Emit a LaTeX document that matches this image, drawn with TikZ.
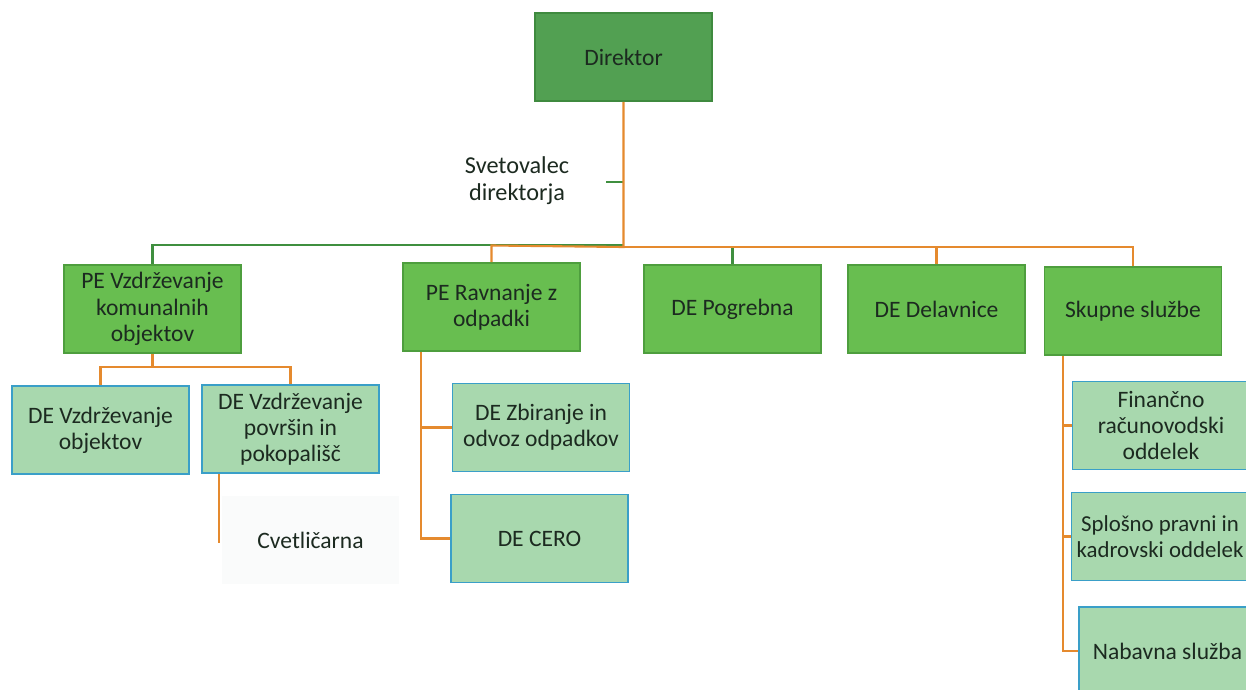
\documentclass[tikz,border=0pt]{standalone}
\usepackage{fontspec}
\setmainfont{Carlito}
\definecolor{dirfill}{HTML}{52A052}
\definecolor{dirdraw}{HTML}{3F8A3F}
\definecolor{pefill}{HTML}{68BE50}
\definecolor{pedraw}{HTML}{4E9E3E}
\definecolor{defill}{HTML}{A8D8AE}
\definecolor{dedraw}{HTML}{3A9FC8}
\definecolor{lorange}{HTML}{E58A2E}
\definecolor{lgreen}{HTML}{3F8F3F}
\definecolor{txt}{HTML}{1C2A20}
\definecolor{cvfill}{HTML}{FAFBFB}
\tikzset{
  box/.style={minimum width=3.54cm, minimum height=1.76cm, align=center, text=txt,
    font=\fontsize{13.4}{14.9}\selectfont, inner sep=2pt, line width=0.9pt},
  dirbox/.style={box, fill=dirfill, draw=dirdraw},
  pebox/.style={box, fill=pefill, draw=pedraw},
  debox/.style={box, fill=defill, draw=dedraw},
  cvbox/.style={box, fill=cvfill, draw=none},
  oline/.style={draw=lorange, line width=1.2pt},
  gline/.style={draw=lgreen, line width=1.2pt},
}
\begin{document}
\begin{tikzpicture}[x=0.02cm, y=-0.02cm]
\clip (0,0) rectangle (1246,689);
\fill[white] (0,0) rectangle (1246,689);
% nodes
\node[dirbox] (dir) at (623.5,57) {Direktor};
\node[align=center, text=txt, font=\fontsize{13.8}{15.3}\selectfont] (sv) at (517,181) {Svetovalec\\direktorja};
\coordinate (svt) at (606,182);
\node[pebox] (pe1) at (152.5,309) {PE Vzdrževanje\\komunalnih\\objektov};
\node[pebox] (pe2) at (491.5,307) {PE Ravnanje z\\odpadki};
\node[pebox] (pog) at (732.5,309) {DE Pogrebna};
\node[pebox] (del) at (936.5,309) {DE Delavnice};
\node[pebox] (ss) at (1133,311) {Skupne službe};
\node[debox] (de1) at (100.5,430) {DE Vzdrževanje\\objektov};
\node[debox] (de2) at (290.5,429) {DE Vzdrževanje\\površin in\\pokopališč};
\node[cvbox] (cv) at (310.5,540) {Cvetličarna};
\coordinate (cvend) at (219,543);
\node[debox] (zb) at (541,427.5) {DE Zbiranje in\\odvoz odpadkov};
\node[debox] (cero) at (539.5,538.5) {DE CERO};
\node[debox] (fin) at (1161,425.5) {Finančno\\računovodski\\oddelek};
\node[debox, font=\fontsize{13}{14.9}\selectfont] (spl) at (1160,536.5) {Splošno pravni in\\kadrovski oddelek};
\node[debox] (nab) at (1167.5,651) {Nabavna služba};
% top-level connectors
\draw[gline] (svt) -- (svt -| dir.south);
\draw[gline] (dir.south |- 0,245) -| (pe1.north);
\draw[oline] (dir.south) -- (dir.south |- 0,247) -- (pe2.north |- 0,245.5) -- (pe2.north);
\draw[oline] (dir.south |- 0,247) -| (ss.north);
\draw[oline] (del.north |- 0,247) -- (del.north);
\draw[gline] (pog.north |- 0,248) -- (pog.north);
% PE1 subtree
\draw[oline] (pe1.south) -- (pe1.south |- 0,367) -| (de1.north);
\draw[oline] (pe1.south |- 0,367) -| (de2.north);
\draw[oline] (cvend |- de2.south) -- (cvend);
% PE2 subtree
\draw[oline] (pe2.south -| 421,0) |- (zb.west);
\draw[oline] (421,428) |- (cero.west);
% Skupne sluzbe subtree
\draw[oline] (ss.south -| 1063,0) |- (fin.west);
\draw[oline] (1063,425) |- (spl.west);
\draw[oline] (1063,537) |- (nab.west);
\end{tikzpicture}
\end{document}
